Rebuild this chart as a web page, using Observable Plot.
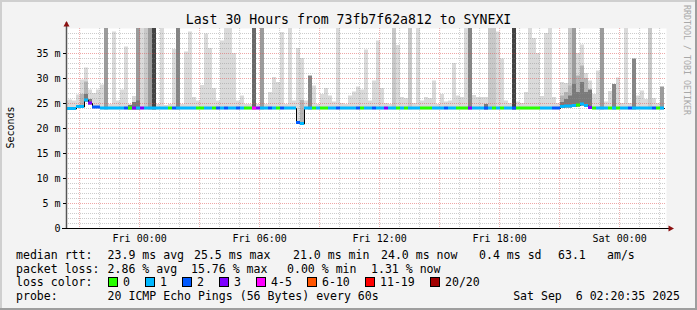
<!DOCTYPE html>
<html><head><meta charset="utf-8">
<script src="https://cdn.jsdelivr.net/npm/d3@7"></script>
<script src="https://cdn.jsdelivr.net/npm/@observablehq/plot@0.6"></script>
<style>
body{margin:0;background:#f3f3f3}
#c{width:697px;height:310px}
svg text{white-space:pre}
</style></head><body><div id="c"></div>
<script>
// ---- data ----
const titleText = "Last 30 Hours from 73fb7f62a812 to SYNEXI";
const xTicks = [0, 6, 12, 18, 24];
const xLabels = ["Fri 00:00", "Fri 06:00", "Fri 12:00", "Fri 18:00", "Sat 00:00"];
const yTicks = [0, 5, 10, 15, 20, 25, 30, 35];
const yLabels = ["0", "5 m", "10 m", "15 m", "20 m", "25 m", "30 m", "35 m"];

// median rtt per 12-minute step (ms)
const med = [
 23.9,23.9,23.9,24.3,24.3,25.6,25.0,24.2,24.2,24.0,
 24.0,24.0,24.0,24.0,24.0,24.0,24.0,24.0,24.0,24.0,
 24.0,24.0,24.0,24.0,24.0,24.0,24.0,24.0,24.0,24.0,
 24.0,24.0,24.0,24.0,24.0,24.0,24.0,24.0,24.0,24.0,
 24.0,24.0,24.0,24.0,24.0,24.0,24.0,24.0,24.0,24.0,
 24.0,24.0,24.0,24.0,24.0,24.0,24.0,24.0,21.1,20.9,
 24.0,24.0,24.0,24.0,24.0,24.0,24.0,24.0,24.0,24.0,
 24.0,24.0,24.0,24.0,24.0,24.0,24.0,24.0,24.0,24.0,
 24.0,24.0,24.0,24.0,24.0,24.0,24.0,24.0,24.0,24.0,
 24.0,24.0,24.0,24.0,24.0,24.0,24.0,24.0,24.0,24.0,
 24.0,24.0,24.0,24.0,24.0,24.0,24.0,24.0,24.0,24.0,
 24.0,24.0,24.0,24.0,24.0,24.0,24.0,24.0,24.0,24.0,
 24.0,24.0,24.0,24.0,24.3,24.4,24.4,24.5,24.6,24.8,
 24.5,24.1,24.0,24.0,24.0,24.0,24.0,24.0,24.0,24.0,
 24.0,24.0,24.0,24.0,24.0,24.0,24.0,24.0,24.0,24.0
];
// loss colour class per step (index into lossColors)
const loss = [
 1,1,1,1,1,1,3,2,2,1,
 1,1,1,1,1,2,0,3,1,3,
 1,1,1,1,1,1,0,2,1,1,
 1,1,1,0,0,1,1,0,2,1,
 2,1,1,2,1,0,0,4,3,1,
 1,2,1,0,2,1,1,1,2,1,
 1,1,0,1,0,0,1,1,2,1,
 1,1,1,2,0,1,1,2,1,1,
 3,1,1,0,1,0,1,1,1,0,
 0,0,1,1,1,2,1,1,0,0,
 0,3,1,1,1,2,1,0,1,0,
 1,1,2,0,0,0,0,0,0,1,
 1,1,2,2,1,1,1,1,0,1,
 1,3,0,1,1,1,0,1,0,1,
 1,2,1,1,1,1,1,2,0,1
];
// top of the smoke per step (ms)
const smokeTop = [
 25.5,25.7,25.5,26.7,29.7,32.1,27.7,27.0,27.7,28.7,
 40,24.8,39.3,25.5,27.7,36.3,24.8,26.4,40,40,
 40,40,40,24.8,40,24.6,24.8,35.8,40,24.8,
 35.3,39.3,26.2,25.5,28.6,38.9,36.0,28.0,25.5,37.5,
 40,40,35.0,25.5,26.5,24.8,24.8,40,24.8,40,
 24.8,27.2,30.2,29.2,39.2,24.8,40,25.5,36.0,34.0,
 25.5,30.5,28.5,24.8,26.8,28.0,26.5,25.3,40,25.0,
 24.8,26.5,27.3,28.3,27.7,35.7,25.5,29.5,37.5,28.0,
 25.0,24.8,40,36.6,26.2,26.0,40,25.0,40,25.5,
 26.2,26.0,29.5,24.8,26.8,25.3,25.5,33.0,26.5,26.2,
 40,40,26.6,26.2,26.2,26.2,40,40,39.3,33.9,
 25.5,25.0,40,25.3,25.0,27.2,40,38.0,35.0,26.4,
 39.0,40,26.2,25.0,29.2,29.0,40,40,35.0,36.7,
 31.0,29.5,26.8,31.5,40,25.3,27.4,28.8,30.1,25.0,
 40,25.0,33.9,26.5,27.5,25.8,40,26.0,25.0,28.3
];
// grey level of that smoke column
const smokeShade = [
 0,0,0,0,0,0,0,0,0,0,
 2,0,0,0,0,0,0,0,2,0,
 1,2,5,0,0,0,0,0,3,0,
 0,0,0,0,0,0,0,0,0,0,
 0,0,0,0,0,0,0,4,0,2,
 0,0,0,0,0,0,0,0,0,0,
 0,3,0,0,0,0,0,0,0,0,
 0,0,0,0,0,0,0,0,0,0,
 0,0,1,0,0,0,1,0,0,0,
 0,0,0,0,0,0,0,0,0,0,
 0,3,0,0,0,0,1,1,0,0,
 0,0,5,0,0,0,0,0,0,0,
 0,0,0,0,0,0,1,2,0,0,
 0,0,0,0,2,0,0,3,0,0,
 0,0,3,0,0,0,1,0,0,2
];
// denser inner smoke bands [step, top ms]
const midLayer = [[4,26.8],[5,29.3],[59,25.6],[124,26.5],[125,27.2],[126,28.5],[128,30.5],[129,32.5],[130,30.0]];
const darkLayer = [[5,26.8],[6,25.8],[16,24.6],[17,25.2],[18,25.5],[105,24.8],[124,25.2],[125,25.8],[126,26.5],[127,28.8],[128,27.2],[129,29.2],[130,27.2],[131,27.7]];

const lossColors = ["#26ff00","#00b8ff","#0059ff","#7e00ff","#ff00ff","#ff5500","#ff0000","#a10000"];
const lossLabels = ["0","1","2","3","4-5","6-10","11-19","20/20"];
const shadeColors = ["#dadada","#c8c8c8","#9c9c9c","#858585","#686868","#434343"];
const midColor = "#b4b4b4", darkColor = "#7a7a7a";

const legendRtt = [["median rtt:",16],["23.9 ms avg",107.6],["25.5 ms max",194],["21.0 ms min",293],["24.0 ms now",381],["0.4 ms sd",479],["63.1",558],["am/s",607]];
const legendLoss = [["packet loss:",16],["2.86 % avg",107.6],["15.76 % max",191],["0.00 % min",287],["1.31 % now",371]];
const lossBoxX = [108,145,182,219,256,307,365,430];
const probeText = "20 ICMP Echo Pings (56 Bytes) every 60s";
const dateText = "Sat Sep  6 02:20:35 2025";

// ---- layout (hours relative to Fri 00:00) ----
const H0 = -3.657, H1 = 26.343;          // graph start / end
const STEP0 = -3.757, STEPW = 0.2;        // 12-minute consolidation steps
const ML = 66, MR = 31, MT = 28, MB = 82;
const px2h = p => H0 + (p - ML) / 20;

const rows = med.map((m, i) => ({
  x1: STEP0 + STEPW * i, x2: STEP0 + STEPW * (i + 1),
  med: m, loss: loss[i], top: smokeTop[i], shade: smokeShade[i]
}));
const layerRows = (arr, c) => arr.map(([i, t]) => ({x1: rows[i].x1, x2: rows[i].x2, lo: rows[i].med - 0.3, top: t, c}));
const medPts = rows.flatMap(d => [{x: d.x1, y: d.med}, {x: d.x2, y: d.med}]);

const minorY = d3.range(1, 40).filter(v => v % 5);
const majorY = d3.range(5, 40, 5);
const minorX = d3.range(-3, 27).filter(h => h % 3);
const majorX = d3.range(-3, 27, 3);
const F = "DejaVu Sans Mono";

const plot = Plot.plot({
  width: 697, height: 310,
  marginLeft: ML, marginRight: MR, marginTop: MT, marginBottom: MB,
  x: {domain: [H0, H1], axis: null},
  y: {domain: [0, 40], axis: null},
  color: {type: "identity"},
  style: {background: "#f3f3f3", fontFamily: F, fontSize: "10px", overflow: "visible", color: "#000"},
  marks: [
    Plot.frame({fill: "white", stroke: "none"}),
    Plot.rect(rows, {x1: "x1", x2: "x2", y1: d => d.med - 0.3, y2: "top", fill: d => shadeColors[d.shade], clip: true}),
    Plot.rect(layerRows(midLayer, midColor), {x1: "x1", x2: "x2", y1: "lo", y2: "top", fill: "c", clip: true}),
    Plot.rect(layerRows(darkLayer, darkColor), {x1: "x1", x2: "x2", y1: "lo", y2: "top", fill: "c", clip: true}),
    Plot.ruleY(minorY, {stroke: "#8f8f8f", strokeOpacity: 0.45, strokeDasharray: "1,1"}),
    Plot.ruleX(minorX, {stroke: "#8f8f8f", strokeOpacity: 0.45, strokeDasharray: "1,1"}),
    Plot.ruleY(majorY, {stroke: "#de5050", strokeOpacity: 0.5, strokeDasharray: "1,1"}),
    Plot.ruleX(majorX, {stroke: "#de5050", strokeOpacity: 0.5, strokeDasharray: "1,1"}),
    Plot.line(medPts, {x: "x", y: "y", stroke: "#000", strokeWidth: 1, clip: true}),
    Plot.rect(rows, {x1: "x1", x2: "x2", y1: d => d.med - 0.3, y2: d => d.med + 0.3, fill: d => lossColors[d.loss], clip: true}),
    Plot.ruleX([H0], {y1: 0, y2: 41.2, stroke: "#555", strokeWidth: 1.5}),
    Plot.ruleY([0], {x1: px2h(62), x2: px2h(670), stroke: "#000"}),
    Plot.ruleY(yTicks, {x1: px2h(63), x2: H0, stroke: "#000"}),
    Plot.text(yTicks, {x: H0, y: d => d, text: (d, i) => yLabels[i], textAnchor: "end", dx: -6, fontSize: 10, fontFamily: F, fill: "#000"}),
    Plot.text(xTicks, {x: d => d, y: 0, text: (d, i) => xLabels[i], dy: 10, fontSize: 10, fontFamily: F, fill: "#000"})
  ]
});
document.getElementById("c").appendChild(plot);

// ---- decorations: title, arrows, legend, frame ----
const svg = d3.select(plot);
const g = svg.append("g").attr("font-family", F).attr("fill", "#000").attr("text-anchor", "start");
const sx = plot.scale("x"), sy = plot.scale("y");
const ax = sx.apply(H0) + 0.5, ay = sy.apply(0) + 0.5;
g.append("path").attr("d", `M${ax},21 L${ax-3},26.5 L${ax+3},26.5 Z`).attr("fill", "#8b1010");
g.append("path").attr("d", `M674,${ay} L668.5,${ay-3} L668.5,${ay+3} Z`).attr("fill", "#8b1010");

g.append("text").attr("x", 348.5).attr("y", 24).attr("text-anchor", "middle").attr("font-size", 13.2).text(titleText);
g.append("text").attr("transform", "translate(13.5,127.5) rotate(-90)").attr("text-anchor", "middle").attr("font-size", 10).text("Seconds");
g.append("text").attr("transform", "translate(683.5,60) rotate(90)").attr("text-anchor", "middle").attr("font-size", 8.3).attr("fill", "#a8a8a8").text("RRDTOOL / TOBI OETIKER");

const FS = 11.55, rowY = [258.8, 272.6, 286.4, 300.2];
legendRtt.forEach(([t, x]) => g.append("text").attr("x", x).attr("y", rowY[0]).attr("font-size", FS).text(t));
legendLoss.forEach(([t, x]) => g.append("text").attr("x", x).attr("y", rowY[1]).attr("font-size", FS).text(t));
g.append("text").attr("x", 16).attr("y", rowY[2]).attr("font-size", FS).text("loss color:");
lossBoxX.forEach((x, i) => {
  g.append("rect").attr("x", x + 0.5).attr("y", 277.5).attr("width", 9).attr("height", 9).attr("fill", lossColors[i]).attr("stroke", "#000");
  g.append("text").attr("x", x + 15).attr("y", rowY[2]).attr("font-size", FS).text(lossLabels[i]);
});
g.append("text").attr("x", 16).attr("y", rowY[3]).attr("font-size", FS).text("probe:");
g.append("text").attr("x", 107.6).attr("y", rowY[3]).attr("font-size", FS).text(probeText);
g.append("text").attr("x", 680).attr("y", rowY[3]).attr("text-anchor", "end").attr("font-size", FS).text(dateText);

g.append("rect").attr("x", 0).attr("y", 0).attr("width", 697).attr("height", 2).attr("fill", "#cfcfcf");
g.append("rect").attr("x", 0).attr("y", 0).attr("width", 2).attr("height", 310).attr("fill", "#cfcfcf");
g.append("rect").attr("x", 0).attr("y", 308).attr("width", 697).attr("height", 2).attr("fill", "#9e9e9e");
g.append("rect").attr("x", 695).attr("y", 0).attr("width", 2).attr("height", 310).attr("fill", "#9e9e9e");
</script></body></html>
